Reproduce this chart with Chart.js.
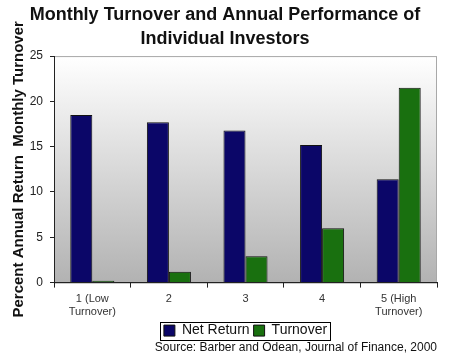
<!DOCTYPE html>
<html>
<head>
<meta charset="utf-8">
<script src="https://cdn.jsdelivr.net/npm/chart.js@4/dist/chart.umd.min.js"></script>
<style>
html,body{margin:0;padding:0;background:#fff;}
#wrap{width:450px;height:356px;}
</style>
</head>
<body>
<div id="wrap"><canvas id="c" width="450" height="356"></canvas></div>
<script>
const categories = [["1 (Low","Turnover)"], "2", "3", "4", ["5 (High","Turnover)"]];
const netReturn = [18.5, 17.7, 16.8, 15.2, 11.4];
const turnover = [0.2, 1.2, 2.9, 6.0, 21.5];
const yTicks = [0, 5, 10, 15, 20, 25];
const titleLines = ["Monthly Turnover and Annual Performance of", "Individual Investors"];
const yTitle = "Percent Annual Return  Monthly Turnover";
const sourceText = "Source: Barber and Odean, Journal of Finance, 2000";

const FONT = "'Liberation Sans', Arial, sans-serif";

const bgPlugin = {
  id: 'bg',
  beforeDraw(chart) {
    const {ctx, chartArea: a} = chart;
    ctx.save();
    const g = ctx.createLinearGradient(0, a.top, 0, a.bottom);
    g.addColorStop(0, '#ffffff');
    g.addColorStop(0.12, '#f6f6f6');
    g.addColorStop(1, '#b2b2b2');
    ctx.fillStyle = g;
    ctx.fillRect(a.left, a.top, a.right - a.left, a.bottom - a.top);
    ctx.strokeStyle = '#a8a8a8';
    ctx.lineWidth = 1;
    ctx.strokeRect(a.left + 0.5, a.top + 0.5, a.right - a.left - 1, a.bottom - a.top);
    ctx.restore();
  },
  afterDraw(chart) {
    const l = chart.legend;
    if (!l || !l.legendHitBoxes || !l.legendHitBoxes.length) return;
    const hb = l.legendHitBoxes;
    const x0 = hb[0].left - 4;
    const last = hb[hb.length - 1];
    const x1 = last.left + last.width + 3;
    const y0 = hb[0].top - 2;
    const y1 = hb[0].top + hb[0].height + 2;
    const ctx = chart.ctx;
    ctx.save();
    ctx.strokeStyle = '#000';
    ctx.lineWidth = 1;
    ctx.strokeRect(Math.round(x0) + 0.5, Math.round(y0) + 0.5, Math.round(x1 - x0), Math.round(y1 - y0));
    ctx.restore();
  }
};

new Chart(document.getElementById('c'), {
  type: 'bar',
  data: {
    labels: categories,
    datasets: [
      { label: 'Net Return', data: netReturn, backgroundColor: '#0b0668', borderColor: '#111', borderWidth: 1, borderSkipped: 'bottom' },
      { label: 'Turnover', data: turnover, backgroundColor: '#19700f', borderColor: '#111', borderWidth: 1, borderSkipped: 'bottom' }
    ]
  },
  options: {
    responsive: false,
    animation: false,
    devicePixelRatio: 1,
    layout: { padding: { left: 0, right: 0, top: 2, bottom: 1 } },
    datasets: { bar: { categoryPercentage: 0.575, barPercentage: 1.0 } },
    scales: {
      x: {
        afterFit(s) { s.height = 37; },
        grid: { display: true, drawOnChartArea: false, drawTicks: true, tickLength: 5, color: '#222', offset: true },
        border: { display: true, color: '#222', width: 1 },
        ticks: { color: '#333', font: { family: FONT, size: 11 }, padding: 5, maxRotation: 0, autoSkip: false }
      },
      y: {
        min: 0, max: 25,
        afterFit(s) { s.width = 54; },
        afterBuildTicks(s) { s.ticks = yTicks.map(v => ({ value: v })); },
        grid: { display: true, drawOnChartArea: false, drawTicks: true, tickLength: 4, color: '#222' },
        border: { display: true, color: '#222', width: 1 },
        ticks: { color: '#222', font: { family: FONT, size: 12 }, padding: 7 },
        title: { display: true, text: yTitle, color: '#111', font: { family: FONT, size: 15, weight: 'bold' }, padding: { top: 10, bottom: 0 } }
      },
      yRight: {
        position: 'right',
        afterFit(s) { s.width = 13; },
        grid: { display: false },
        border: { display: false },
        ticks: { display: false }
      }
    },
    plugins: {
      title: {
        display: true, text: titleLines, color: '#111',
        font: { family: FONT, size: 18, weight: 'bold', lineHeight: 1.28 },
        padding: { top: 2, bottom: 6 }
      },
      legend: {
        display: true, position: 'bottom', fullSize: false,
        labels: { color: '#111', font: { family: FONT, size: 14 }, boxWidth: 11, boxHeight: 11, padding: 4, useBorderRadius: false }
      },
      subtitle: {
        display: true, position: 'bottom', align: 'end', fullSize: false, text: sourceText, color: '#111',
        font: { family: FONT, size: 12 }, padding: { top: -7, bottom: 0 }
      },
      tooltip: { enabled: false }
    }
  },
  plugins: [bgPlugin]
});
</script>
</body>
</html>
